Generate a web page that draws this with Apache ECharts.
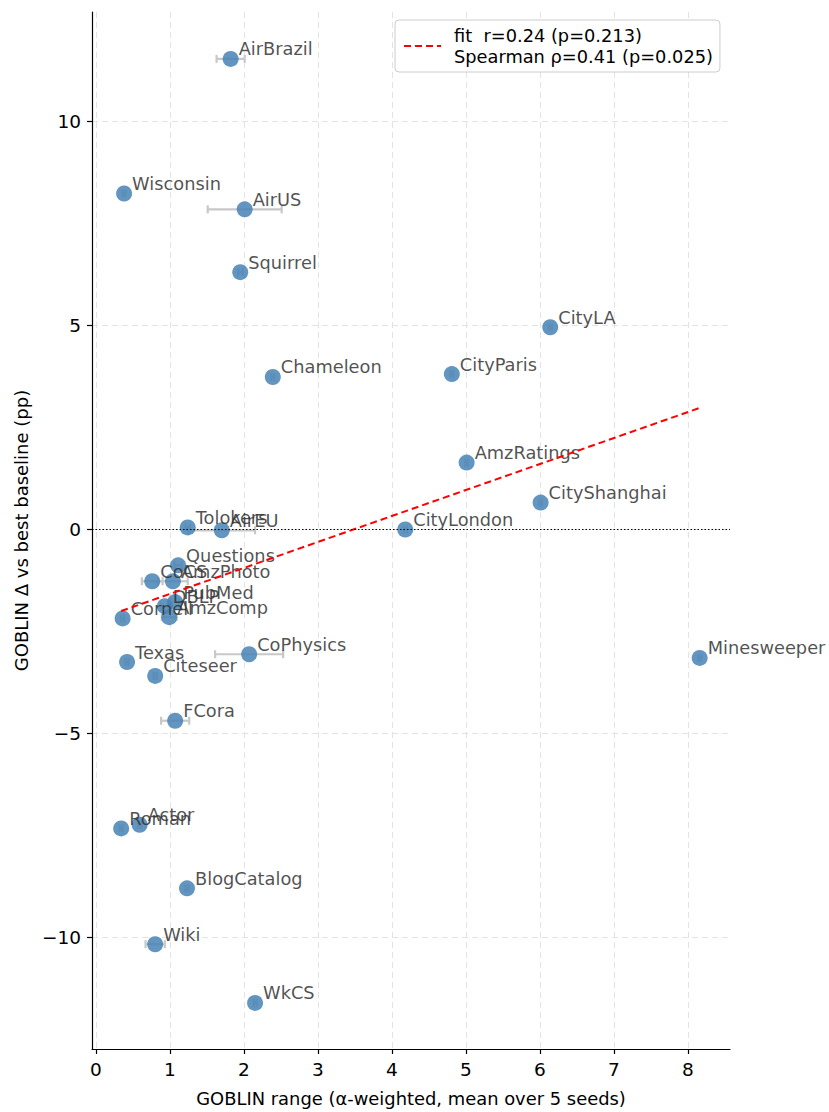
<!DOCTYPE html>
<html>
<head>
<meta charset="utf-8">
<script src="https://cdn.jsdelivr.net/npm/echarts@6/dist/echarts.min.js"></script>
<style>
  html, body { margin: 0; padding: 0; background: #fff; }
  #chart { width: 829px; height: 1112px; }
</style>
</head>
<body>
<div id="chart"></div>
<script>
// Per-dataset results: GOBLIN range (α-weighted, mean over 5 seeds) vs Δ to best baseline
const datasets = ['AirBrazil','Wisconsin','AirUS','Squirrel','CityLA','Chameleon','CityParis','AmzRatings',
  'CityShanghai','CityLondon','Tolokers','AirEU','Questions','CoCS','AmzPhoto','DBLP','PubMed','AmzComp',
  'Cornell','Texas','Citeseer','CoPhysics','FCora','Minesweeper','Roman','Actor','BlogCatalog','Wiki','WkCS'];
const rangeMean = [1.82,0.38,2.01,1.95,6.14,2.39,4.81,5.01,
  6.01,4.18,1.24,1.70,1.11,0.76,1.04,0.93,1.07,0.99,
  0.36,0.42,0.80,2.07,1.07,8.16,0.34,0.59,1.23,0.80,2.15];
const rangeStd = [0.19,0.02,0.50,0.03,0.02,0.02,0.02,0.02,
  0.02,0.02,0.03,0.45,0.05,0.14,0.20,0.05,0.05,0.10,
  0.02,0.02,0.02,0.46,0.19,0.02,0.02,0.02,0.02,0.13,0.02];
const deltaPP = [11.54,8.24,7.85,6.31,4.96,3.74,3.81,1.64,
  0.66,0.00,0.05,-0.02,-0.88,-1.27,-1.27,-1.88,-1.78,-2.15,
  -2.18,-3.25,-3.59,-3.06,-4.69,-3.15,-7.33,-7.24,-8.80,-10.17,-11.61];

// Least-squares fit line parameters and correlation summary
const fitSlope = 0.637;
const fitIntercept = -2.217;
const fitLabel = 'fit  r=0.24 (p=0.213)\nSpearman ρ=0.41 (p=0.025)';

const xTicks = [0,1,2,3,4,5,6,7,8];
const yTicks = [-10,-5,0,5,10];

const FONT = 'DejaVu Sans';
const points = datasets.map((n, i) => [rangeMean[i], deltaPP[i], rangeStd[i], n]);
const xMinData = Math.min(...rangeMean), xMaxData = Math.max(...rangeMean);
const fitLine = [[xMinData, fitIntercept + fitSlope * xMinData], [xMaxData, fitIntercept + fitSlope * xMaxData]];

const chart = echarts.init(document.getElementById('chart'), null, { renderer: 'svg' });

chart.setOption({
  animation: false,
  backgroundColor: '#ffffff',
  textStyle: { fontFamily: FONT },
  grid: { left: 92, right: 99, top: 12, bottom: 60 },
  legend: {
    left: 395, top: 20,
    data: [{ name: fitLabel }],
    itemWidth: 37, itemHeight: 14,
    padding: [5, 7, 5, 8],
    backgroundColor: '#ffffff',
    borderColor: '#cccccc', borderWidth: 1, borderRadius: 4,
    itemStyle: { color: 'rgba(0,0,0,0)', borderWidth: 0, opacity: 0 },
    textStyle: { fontFamily: FONT, fontSize: 17.8, color: '#000', lineHeight: 21, padding: [0, 0, 0, 8] }
  },
  xAxis: {
    type: 'value', min: -0.054, max: 8.57,
    name: 'GOBLIN range (α-weighted, mean over 5 seeds)',
    nameLocation: 'middle', nameGap: 40,
    nameTextStyle: { fontFamily: FONT, fontSize: 17.9, color: '#000' },
    axisLine: { show: true, onZero: false, lineStyle: { color: '#000', width: 1.2 } },
    axisTick: { show: true, length: 5, customValues: xTicks, lineStyle: { color: '#000', width: 1.2 } },
    axisLabel: { customValues: xTicks, fontFamily: FONT, fontSize: 18.5, color: '#000', margin: 11 },
    splitLine: { show: true, lineStyle: { color: '#e3e3e3', type: [6, 4], width: 1 } }
  },
  yAxis: {
    type: 'value', min: -12.74, max: 12.69,
    name: 'GOBLIN Δ vs best baseline (pp)',
    nameLocation: 'middle', nameGap: 62, nameRotate: 90,
    nameTextStyle: { fontFamily: FONT, fontSize: 18, color: '#000' },
    axisLine: { show: true, onZero: false, lineStyle: { color: '#000', width: 1.2 } },
    axisTick: { show: true, length: 5, customValues: yTicks, lineStyle: { color: '#000', width: 1.2 } },
    axisLabel: { customValues: yTicks, fontFamily: FONT, fontSize: 18.5, color: '#000', margin: 11,
      formatter: v => (v < 0 ? '\u2212' + Math.abs(v) : String(v)) },
    splitLine: { show: true, lineStyle: { color: '#e3e3e3', type: [6, 4], width: 1 } }
  },
  series: [
    {
      // horizontal error bars (±std over seeds) with caps
      type: 'custom',
      name: 'err',
      z: 2,
      data: points,
      renderItem: (params, api) => {
        const x = api.value(0), y = api.value(1), s = api.value(2);
        const p0 = api.coord([x - s, y]);
        const p1 = api.coord([x + s, y]);
        const style = { stroke: '#c8c8c8', lineWidth: 2.2 };
        const cap = 4;
        return {
          type: 'group',
          children: [
            { type: 'line', shape: { x1: p0[0], y1: p0[1], x2: p1[0], y2: p1[1] }, style },
            { type: 'line', shape: { x1: p0[0], y1: p0[1] - cap, x2: p0[0], y2: p0[1] + cap }, style },
            { type: 'line', shape: { x1: p1[0], y1: p1[1] - cap, x2: p1[0], y2: p1[1] + cap }, style }
          ]
        };
      },
      silent: true
    },
    {
      type: 'scatter',
      name: 'datasets',
      z: 3,
      data: points,
      symbolSize: 16,
      itemStyle: { color: '#4682b4', opacity: 0.85 },
      label: {
        show: true,
        position: [16, -2], align: 'left', verticalAlign: 'middle',
        formatter: p => p.value[3],
        fontFamily: FONT, fontSize: 17.8, color: '#333333'
      },
      markLine: {
        silent: true, symbol: 'none',
        label: { show: false },
        lineStyle: { color: '#000', type: [1.5, 2], width: 1 },
        data: [{ yAxis: 0 }]
      }
    },
    {
      type: 'line',
      name: fitLabel,
      z: 4,
      data: fitLine,
      showSymbol: false,
      symbol: 'none',
      lineStyle: { color: '#ff0000', type: [7, 4], width: 2 },
      itemStyle: { color: '#ff0000' }
    }
  ]
});
</script>
</body>
</html>
